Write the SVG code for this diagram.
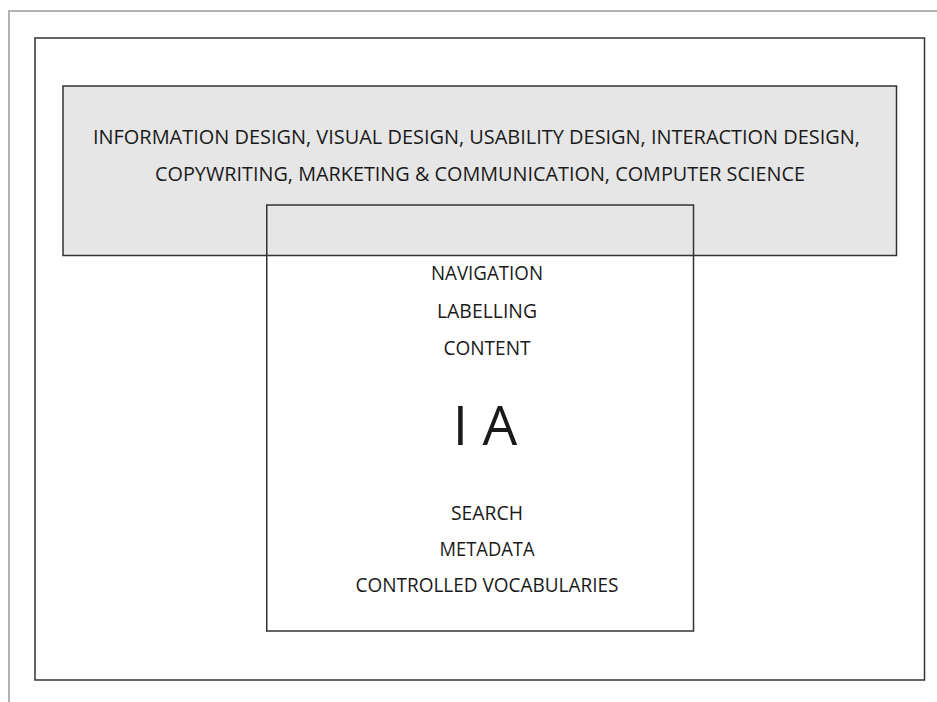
<svg xmlns="http://www.w3.org/2000/svg" width="937" height="702" viewBox="0 0 937 702">
  <style>
    .frame { fill: none; stroke: #b3b3b3; stroke-width: 2; }
    .box { stroke: #333333; stroke-width: 1.5; }
    .lbl { font-family: "Open Sans", "Noto Sans", sans-serif; fill: #1a1a1a; text-anchor: middle; }
    .disc { font-size: 20px; }
    .item { font-size: 20px; }
    .big { font-size: 55px; }
  </style>
  <rect width="937" height="702" fill="#ffffff"/>
  <!-- page edge -->
  <path class="frame" d="M9,702 V11 H937"/>

  <g id="outer">
    <rect class="box" x="35" y="38" width="889.5" height="642" fill="none"/>
  </g>

  <g id="disciplines">
    <rect class="box" x="63" y="86" width="833.5" height="169.5" fill="#e6e6e6"/>
    <text class="lbl disc" x="476.5" y="143.5" textLength="767" lengthAdjust="spacingAndGlyphs">INFORMATION DESIGN, VISUAL DESIGN, USABILITY DESIGN, INTERACTION DESIGN,</text>
    <text class="lbl disc" x="480" y="181" textLength="650" lengthAdjust="spacingAndGlyphs">COPYWRITING, MARKETING &amp; COMMUNICATION, COMPUTER SCIENCE</text>
  </g>

  <g id="ia">
    <rect class="box" x="266.75" y="205" width="426.75" height="426" fill="none"/>
    <text class="lbl item" x="487" y="280" textLength="112" lengthAdjust="spacingAndGlyphs">NAVIGATION</text>
    <text class="lbl item" x="487" y="317.5" textLength="100" lengthAdjust="spacingAndGlyphs">LABELLING</text>
    <text class="lbl item" x="487" y="355" textLength="87" lengthAdjust="spacingAndGlyphs">CONTENT</text>
    <text class="lbl big" x="485" y="445">I A</text>
    <text class="lbl item" x="487" y="520" textLength="72" lengthAdjust="spacingAndGlyphs">SEARCH</text>
    <text class="lbl item" x="487" y="556" textLength="95" lengthAdjust="spacingAndGlyphs">METADATA</text>
    <text class="lbl item" x="487" y="592" textLength="263" lengthAdjust="spacingAndGlyphs">CONTROLLED VOCABULARIES</text>
  </g>

  <g id="connectors"/>
</svg>
